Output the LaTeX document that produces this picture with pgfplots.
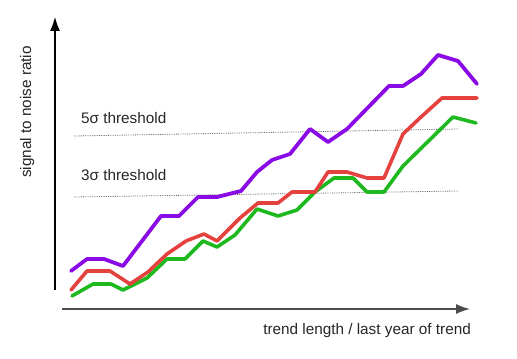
\documentclass[border=0pt]{standalone}
\usepackage{fontspec}
\setmainfont{Liberation Sans}
\usepackage{pgfplots}
\pgfplotsset{compat=1.18}
\usetikzlibrary{arrows.meta}
\definecolor{cpurple}{HTML}{8A0AE6}
\definecolor{cred}{HTML}{E5423F}
\definecolor{cgreen}{HTML}{1EB91E}
\begin{document}
\begin{tikzpicture}
\begin{axis}[
  scale only axis, width=517bp, height=359bp,
  xmin=0, xmax=517, ymin=0, ymax=359, y dir=reverse,
  hide axis, clip=false,
  every axis plot/.append style={line join=round, line cap=round},
]
\path (rel axis cs:0,0) rectangle (rel axis cs:1,1);
% threshold lines
\addplot[gray!80!black, densely dotted, line width=0.8pt, line cap=butt] coordinates {(74,136) (458,129)};
\addplot[gray!80!black, densely dotted, line width=0.8pt, line cap=butt] coordinates {(74,197) (458,191)};
% series
\addplot[cgreen, line width=3.6pt] coordinates {
(72,296)(93,284)(111,284)(123,290)(147,278)(167,259)(185,259)(203,241)(217,247)(235,235)(257,209)(278,216)(297,210)(315,192)(334,178)(353,178)(367,192)(384,192)(403,166)(453,117)(476,123)};
\addplot[cred, line width=3.6pt] coordinates {
(71,290)(87,271)(110,271)(130,284)(148,272)(167,254)(186,241)(204,234)(217,241)(240,218)(258,203)(278,203)(292,192)(315,192)(328,172)(347,172)(367,178)(384,178)(403,134)(421,117)(442,98)(460,98)(477,98)};
\addplot[cpurple, line width=3.8pt] coordinates {
(71,271)(87,259)(104,259)(123,266)(161,216)(179,216)(198,197)(217,197)(241,191)(257,172)(272,160)(290,154)(310,129)(328,142)(347,129)(389,86)(403,86)(421,74)(438,55)(458,61)(477,84)};
% axes
\draw[black, line width=1.1pt, -{Latex[length=14bp,width=10bp]}] (axis cs:55,290) -- (axis cs:55,17);
\draw[black!70, line width=1.3pt, -{Latex[length=14bp,width=10bp]}] (axis cs:62,309) -- (axis cs:470,309);
% texts
\node[anchor=base west, inner sep=0, font=\fontsize{15.3bp}{18bp}\selectfont, text=black!85] at (axis cs:81,123) {5σ threshold};
\node[anchor=base west, inner sep=0, font=\fontsize{15.3bp}{18bp}\selectfont, text=black!85] at (axis cs:81,180) {3σ threshold};
\node[anchor=base east, inner sep=0, font=\fontsize{15.3bp}{18bp}\selectfont, text=black!85] at (axis cs:471,334) {trend length / last year of trend};
\node[anchor=base, rotate=90, inner sep=0, font=\fontsize{15.3bp}{18bp}\selectfont, text=black!85] at (axis cs:31,112) {signal to noise ratio};
\end{axis}
\end{tikzpicture}
\end{document}
